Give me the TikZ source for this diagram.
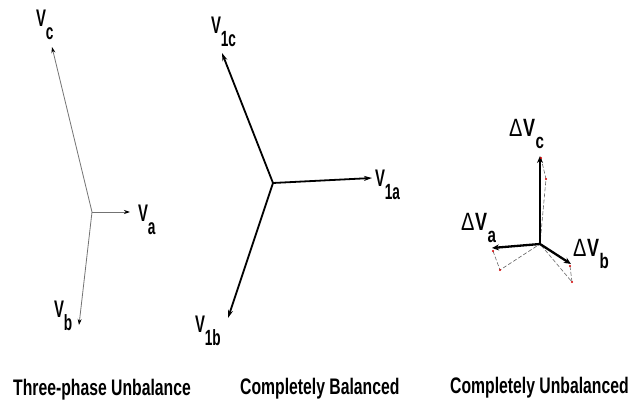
\documentclass[tikz,border=0pt]{standalone}
\usepackage{fontspec}
\setmainfont{Liberation Sans}
\newfontfamily\labA[FakeStretch=0.62]{Liberation Sans Bold}
\newfontfamily\labB[FakeStretch=0.72]{Liberation Sans Bold}
\newfontfamily\deltafont[FakeStretch=0.8]{Liberation Sans}
\newfontfamily\capfont[FakeStretch=0.7]{Liberation Sans Bold}
\usetikzlibrary{arrows.meta}
\newcommand\phsubA[2]{#1\kern-0.3pt\raisebox{-13pt}{\fontsize{22}{22}\selectfont #2}}
\newcommand\phsubB[2]{#1\kern0.5pt\raisebox{-12pt}{\fontsize{21}{21}\selectfont #2}}
\begin{document}
\begin{tikzpicture}[x=1pt,y=-1pt,
  thinph/.style={draw=black!55,line width=0.8pt,-{Stealth[length=6pt,width=4pt,fill=black,color=black]}},
  boldph/.style={draw=black,line width=1.8pt,-{Stealth[length=8pt,width=5pt]}},
  dph/.style={draw=black,line width=2.3pt,-{Stealth[length=7pt,width=6pt]}},
  dsh/.style={draw=black!60,line width=0.6pt,dash pattern=on 4pt off 2pt},
  rmark/.style={fill=red!85!black,inner sep=0pt,minimum size=2.2pt,circle},
  labA/.style={anchor=base west,inner sep=0pt,font=\labA\fontsize{24}{24}\selectfont},
  labB/.style={anchor=base west,inner sep=0pt,font=\labB\fontsize{25}{25}\selectfont},
  capt/.style={anchor=base west,inner sep=0pt,font=\capfont\fontsize{22.5}{22.5}\selectfont}]
\useasboundingbox (0,0) rectangle (635,401);
% diagram 1
\coordinate (O1) at (92,212);
\coordinate (c1) at (52,47);
\coordinate (a1) at (130,212);
\coordinate (b1) at (79,325);
\draw[thinph] (O1) -- (c1);
\draw[thinph] (O1) -- (a1);
\draw[thinph] (O1) -- (b1);
\node[labA] (lc1) at (36,27) {\phsubA{V}{c}};
\node[labA] (la1) at (138,222) {\phsubA{V}{a}};
\node[labA] (lb1) at (54,317) {\phsubA{V}{b}};
% diagram 2
\coordinate (O2) at (273,183);
\coordinate (c2) at (222,53);
\coordinate (a2) at (372,178);
\coordinate (b2) at (228,318);
\draw[boldph] (O2) -- (c2);
\draw[boldph] (O2) -- (a2);
\draw[boldph] (O2) -- (b2);
\node[labA] (lc2) at (211,34) {\phsubA{V}{1c}};
\node[labA] (la2) at (375,187) {\phsubA{V}{1a}};
\node[labA] (lb2) at (195,332) {\phsubA{V}{1b}};
% diagram 3
\coordinate (O3) at (540,244);
\coordinate (c3) at (540,156);
\coordinate (a3) at (492,248);
\coordinate (b3) at (571,264);
\coordinate (pc) at (546,179);
\coordinate (pa) at (500,270);
\coordinate (pb) at (572,282);
\coordinate (qc) at (541,158);
\coordinate (qa) at (493,251);
\coordinate (qb) at (570,266);
\draw[dsh] (qc) -- (pc) -- (O3);
\draw[dsh] (qa) -- (pa) -- (O3);
\draw[dsh] (qb) -- (pb) -- (O3);
\draw[dph] (O3) -- (c3);
\draw[dph] (O3) -- (a3);
\draw[dph] (O3) -- (b3);
\foreach \p in {pc,pa,pb,qc,qa,qb} \node[rmark] at (\p) {};
\node[labB] (lc3) at (509,137) {\phsubB{{\deltafont Δ}\kern0.5pt V}{c}};
\node[labB] (la3) at (461,230) {\phsubB{{\deltafont Δ}\kern0.5pt V}{a}};
\node[labB] (lb3) at (573,256) {\phsubB{{\deltafont Δ}\kern0.5pt V}{b}};
% captions
\node[capt] (t1) at (13,395) {Three-phase Unbalance};
\node[capt] (t2) at (240,394) {Completely Balanced};
\node[capt] (t3) at (450,393) {Completely Unbalanced};
\end{tikzpicture}
\end{document}
